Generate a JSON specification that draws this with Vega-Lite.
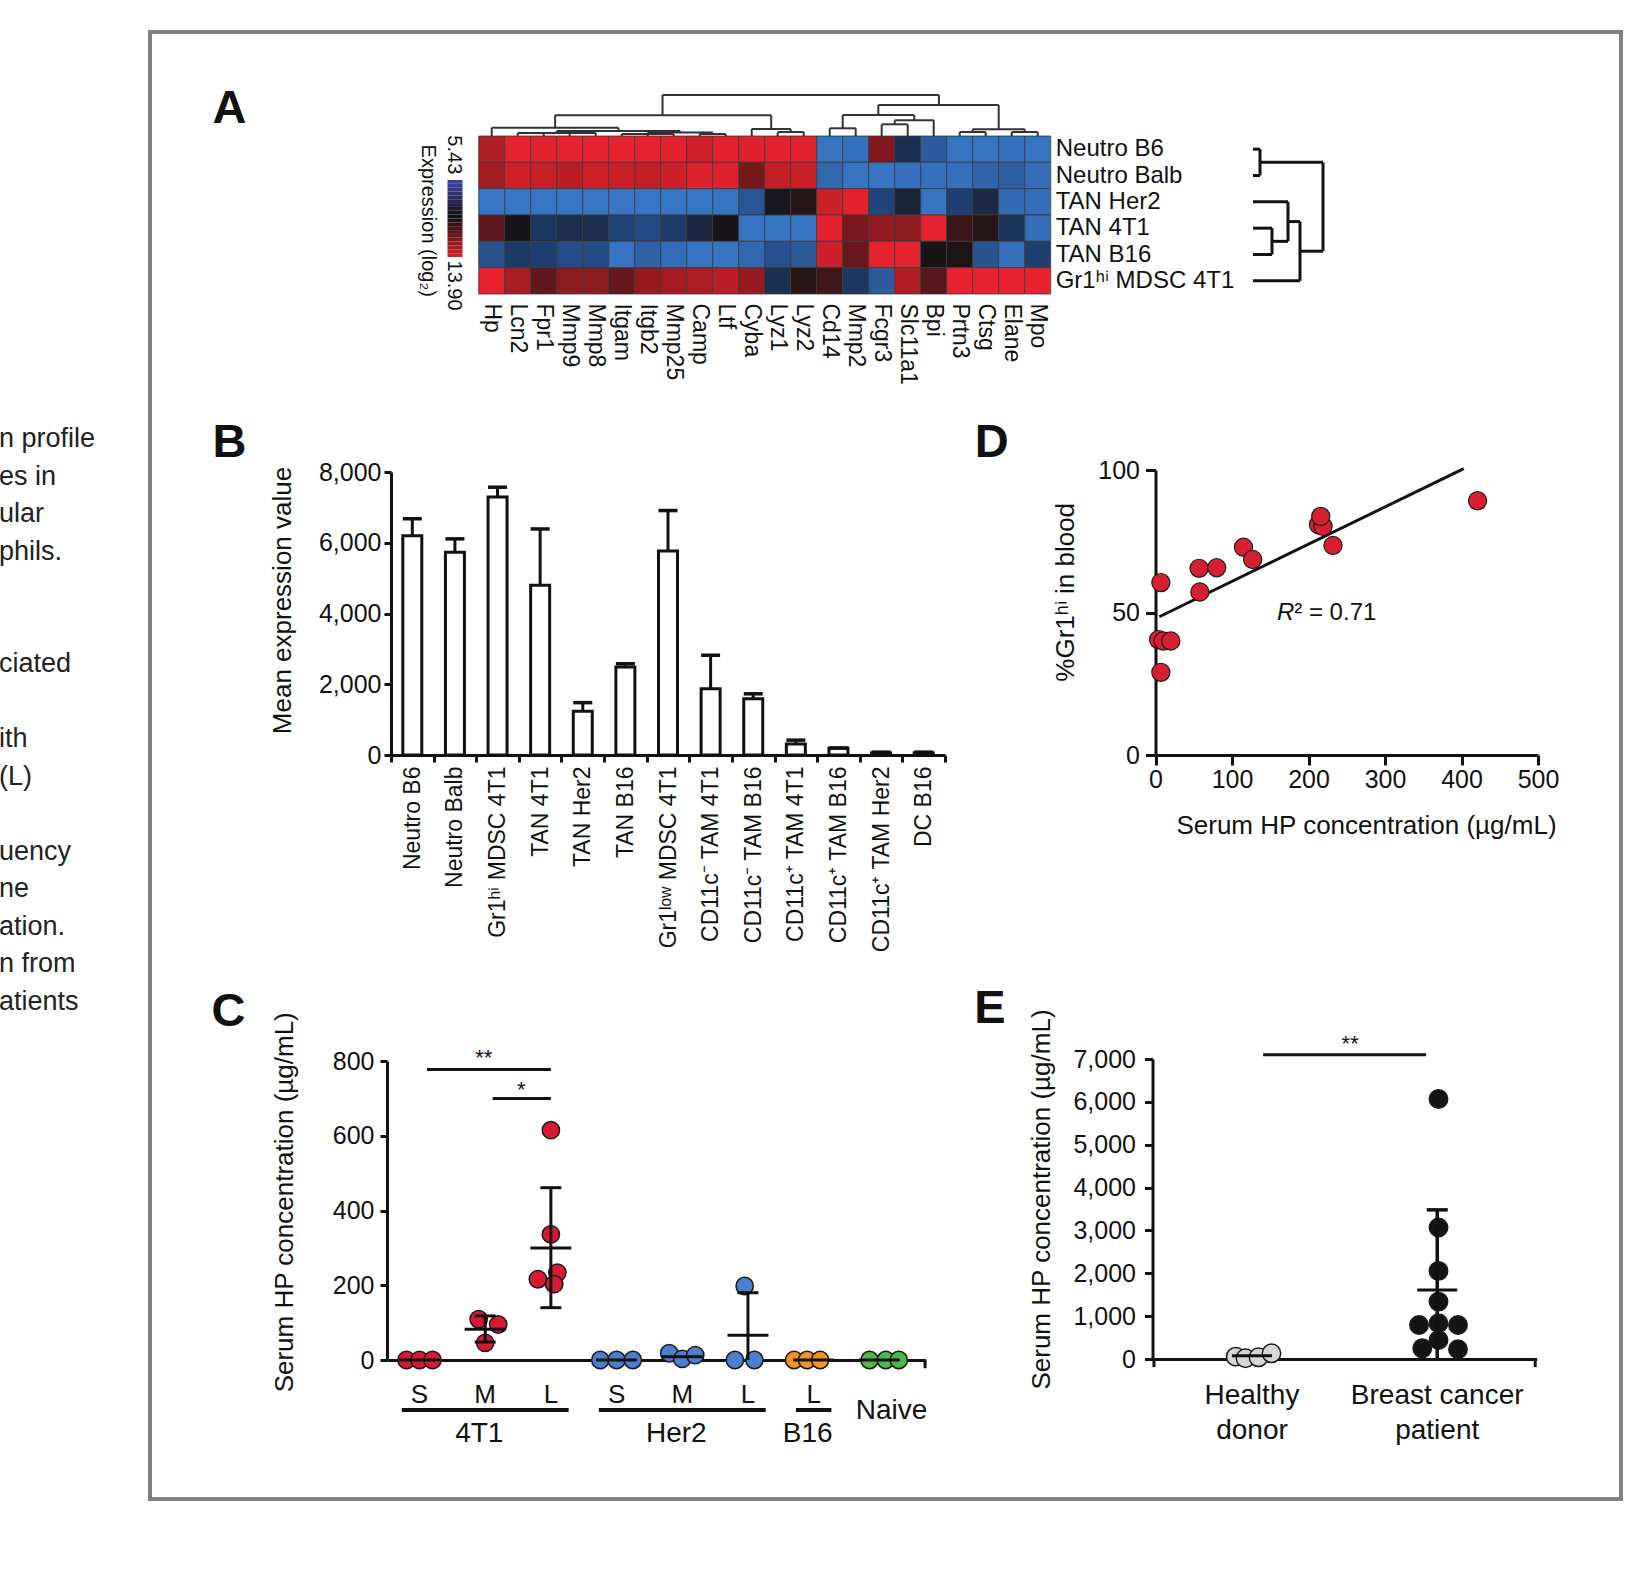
{
"$schema": "https://vega.github.io/schema/vega-lite/v6.json",
"width": 1471,
"height": 1467,
"autosize": {"type": "none"},
"padding": {"left": 150, "top": 32, "right": 7, "bottom": 76},
"background": "white",
"config": {
  "font": "Liberation Sans",
  "view": {"stroke": "#808080", "strokeWidth": 4},
  "axis": {"grid": false, "domainColor": "#111111", "tickColor": "#111111", "labelColor": "#111111", "titleColor": "#111111", "labelFont": "Liberation Sans", "titleFont": "Liberation Sans", "titleFontWeight": "normal", "domainWidth": 3, "tickWidth": 3, "labelFlush": false, "labelOverlap": false, "labelLimit": 0},
  "text": {"font": "Liberation Sans", "color": "#111111"}
},
"datasets": {
  "heatwide": [
    {"s":"Neutro B6","Hp":12.6,"Lcn2":13.8,"Fpr1":13.7,"Mmp9":13.8,"Mmp8":13.8,"Itgam":13.8,"Itgb2":13.8,"Mmp25":13.7,"Camp":13.3,"Ltf":13.7,"Cyba":13.6,"Lyz1":13.7,"Lyz2":13.7,"Cd14":5.8,"Mmp2":5.9,"Fcgr3":11.6,"Slc11a1":8.3,"Bpi":6.6,"Prtn3":5.8,"Ctsg":5.8,"Elane":5.9,"Mpo":5.8},
    {"s":"Neutro Balb","Hp":12.2,"Lcn2":13.3,"Fpr1":13.1,"Mmp9":12.8,"Mmp8":13.3,"Itgam":13.1,"Itgb2":13.0,"Mmp25":13.2,"Camp":13.6,"Ltf":13.6,"Cyba":11.4,"Lyz1":13.0,"Lyz2":13.2,"Cd14":6.2,"Mmp2":5.8,"Fcgr3":5.8,"Slc11a1":5.9,"Bpi":5.9,"Prtn3":5.9,"Ctsg":6.3,"Elane":6.5,"Mpo":6.0},
    {"s":"TAN Her2","Hp":5.7,"Lcn2":5.7,"Fpr1":5.7,"Mmp9":5.7,"Mmp8":5.7,"Itgam":5.7,"Itgb2":5.7,"Mmp25":5.7,"Camp":5.7,"Ltf":5.8,"Cyba":6.8,"Lyz1":9.5,"Lyz2":9.9,"Cd14":13.2,"Mmp2":13.7,"Fcgr3":7.4,"Slc11a1":8.9,"Bpi":5.8,"Prtn3":7.6,"Ctsg":8.6,"Elane":6.1,"Mpo":6.0},
    {"s":"TAN 4T1","Hp":11.0,"Lcn2":9.6,"Fpr1":8.0,"Mmp9":8.4,"Mmp8":8.4,"Itgam":7.5,"Itgb2":7.2,"Mmp25":7.7,"Camp":8.7,"Ltf":9.6,"Cyba":5.8,"Lyz1":5.8,"Lyz2":5.8,"Cd14":13.7,"Mmp2":11.5,"Fcgr3":12.0,"Slc11a1":11.8,"Bpi":13.8,"Prtn3":10.3,"Ctsg":9.9,"Elane":8.1,"Mpo":6.0},
    {"s":"TAN B16","Hp":7.0,"Lcn2":7.8,"Fpr1":7.6,"Mmp9":7.1,"Mmp8":7.2,"Itgam":5.8,"Itgb2":6.4,"Mmp25":6.0,"Camp":5.8,"Ltf":5.8,"Cyba":6.2,"Lyz1":7.0,"Lyz2":6.7,"Cd14":13.2,"Mmp2":11.2,"Fcgr3":13.8,"Slc11a1":13.8,"Bpi":9.7,"Prtn3":9.8,"Ctsg":6.9,"Elane":5.9,"Mpo":7.6},
    {"s":"Gr1ʰⁱ MDSC 4T1","Hp":13.8,"Lcn2":12.4,"Fpr1":11.0,"Mmp9":11.8,"Mmp8":11.8,"Itgam":11.1,"Itgb2":12.0,"Mmp25":12.3,"Camp":12.5,"Ltf":12.8,"Cyba":12.0,"Lyz1":8.3,"Lyz2":10.0,"Cd14":10.4,"Mmp2":7.9,"Fcgr3":6.6,"Slc11a1":12.6,"Bpi":10.8,"Prtn3":13.8,"Ctsg":13.8,"Elane":13.8,"Mpo":13.8}
  ],
  "dendC": [
    {"a":6.57,"b":17.2,"c":41,"d":41},{"a":6.57,"b":6.57,"c":20.7,"d":41},{"a":17.2,"b":17.2,"c":31,"d":41},
    {"a":2.44,"b":10.75,"c":20.7,"d":20.7},{"a":2.44,"b":2.44,"c":8.3,"d":20.7},{"a":10.75,"b":10.75,"c":7,"d":20.7},
    {"a":0,"b":4.875,"c":8.3,"d":8.3},{"a":0,"b":0,"c":0,"d":8.3},{"a":4.875,"b":4.875,"c":5,"d":8.3},
    {"a":2.5,"b":7.25,"c":5,"d":5},{"a":2.5,"b":2.5,"c":3,"d":5},{"a":7.25,"b":7.25,"c":3.5,"d":5},
    {"a":1,"b":4,"c":3,"d":3},{"a":1,"b":1,"c":0,"d":3},{"a":2,"b":2,"c":0,"d":3},{"a":3,"b":3,"c":0,"d":3},{"a":4,"b":4,"c":0,"d":3},
    {"a":6,"b":8.5,"c":3.5,"d":3.5},{"a":6,"b":6,"c":2,"d":3.5},{"a":8.5,"b":8.5,"c":2,"d":3.5},
    {"a":5,"b":7,"c":2,"d":2},{"a":5,"b":5,"c":0,"d":2},{"a":6,"b":6,"c":0,"d":2},{"a":7,"b":7,"c":0,"d":2},
    {"a":8,"b":9,"c":2,"d":2},{"a":8,"b":8,"c":0,"d":2},{"a":9,"b":9,"c":0,"d":2},
    {"a":10,"b":11.5,"c":7,"d":7},{"a":10,"b":10,"c":0,"d":7},{"a":11.5,"b":11.5,"c":4,"d":7},{"a":11,"b":12,"c":4,"d":4},{"a":11,"b":11,"c":0,"d":4},{"a":12,"b":12,"c":0,"d":4},
    {"a":14.87,"b":19.5,"c":31,"d":31},{"a":14.87,"b":14.87,"c":21,"d":31},{"a":19.5,"b":19.5,"c":6.7,"d":31},
    {"a":13.5,"b":16.25,"c":21,"d":21},{"a":13.5,"b":13.5,"c":7.7,"d":21},{"a":16.25,"b":16.25,"c":15.7,"d":21},
    {"a":13,"b":14,"c":7.7,"d":7.7},{"a":13,"b":13,"c":0,"d":7.7},{"a":14,"b":14,"c":0,"d":7.7},
    {"a":15.5,"b":17,"c":15.7,"d":15.7},{"a":17,"b":17,"c":0,"d":15.7},{"a":15.5,"b":15.5,"c":11.7,"d":15.7},
    {"a":15,"b":16,"c":11.7,"d":11.7},{"a":15,"b":15,"c":0,"d":11.7},{"a":16,"b":16,"c":0,"d":11.7},
    {"a":18.5,"b":20.5,"c":6.7,"d":6.7},{"a":18.5,"b":18.5,"c":4,"d":6.7},{"a":20.5,"b":20.5,"c":4,"d":6.7},
    {"a":18,"b":19,"c":4,"d":4},{"a":18,"b":18,"c":0,"d":4},{"a":19,"b":19,"c":0,"d":4},
    {"a":20,"b":21,"c":4,"d":4},{"a":20,"b":20,"c":0,"d":4},{"a":21,"b":21,"c":0,"d":4}
  ],
  "dendR": [
    {"a":0,"b":7,"c":0,"d":0},{"a":0,"b":7,"c":1,"d":1},{"a":7,"b":7,"c":0,"d":1},{"a":7,"b":70,"c":0.5,"d":0.5},
    {"a":0,"b":35,"c":2,"d":2},{"a":0,"b":19,"c":3,"d":3},{"a":0,"b":19,"c":4,"d":4},{"a":19,"b":19,"c":3,"d":4},
    {"a":19,"b":35,"c":3.5,"d":3.5},{"a":35,"b":35,"c":2,"d":3.5},{"a":35,"b":47,"c":2.75,"d":2.75},
    {"a":0,"b":47,"c":5,"d":5},{"a":47,"b":47,"c":2.75,"d":5},{"a":47,"b":70,"c":3.875,"d":3.875},{"a":70,"b":70,"c":0.5,"d":3.875}
  ],
  "legend": [
    {"v":5.43,"v2":5.85},{"v":5.85,"v2":6.28},{"v":6.28,"v2":6.70},{"v":6.70,"v2":7.12},{"v":7.12,"v2":7.55},
    {"v":7.55,"v2":7.97},{"v":7.97,"v2":8.39},{"v":8.39,"v2":8.82},{"v":8.82,"v2":9.24},{"v":9.24,"v2":9.67},
    {"v":9.67,"v2":10.09},{"v":10.09,"v2":10.51},{"v":10.51,"v2":10.94},{"v":10.94,"v2":11.36},{"v":11.36,"v2":11.78},
    {"v":11.78,"v2":12.21},{"v":12.21,"v2":12.63},{"v":12.63,"v2":13.05},{"v":13.05,"v2":13.48},{"v":13.48,"v2":13.90}
  ],
  "bars": [
    {"cell":"Neutro B6","mean":6200,"upper":6680},
    {"cell":"Neutro Balb","mean":5730,"upper":6110},
    {"cell":"Gr1ʰⁱ MDSC 4T1","mean":7290,"upper":7570},
    {"cell":"TAN 4T1","mean":4800,"upper":6390},
    {"cell":"TAN Her2","mean":1240,"upper":1480},
    {"cell":"TAN B16","mean":2490,"upper":2580},
    {"cell":"Gr1ˡᵒʷ MDSC 4T1","mean":5770,"upper":6910},
    {"cell":"CD11c⁻ TAM 4T1","mean":1870,"upper":2820},
    {"cell":"CD11c⁻ TAM B16","mean":1590,"upper":1730},
    {"cell":"CD11c⁺ TAM 4T1","mean":310,"upper":420},
    {"cell":"CD11c⁺ TAM B16","mean":190,"upper":200},
    {"cell":"CD11c⁺ TAM Her2","mean":60,"upper":80},
    {"cell":"DC B16","mean":60,"upper":80}
  ],
  "scatter": [
    {"hp":7,"pct":60.5},{"hp":4,"pct":40.5},{"hp":10,"pct":40},{"hp":20,"pct":40},{"hp":7,"pct":29},
    {"hp":58,"pct":57.2},{"hp":57,"pct":65.5},{"hp":80,"pct":65.7},{"hp":115,"pct":72.9},{"hp":127,"pct":68.6},
    {"hp":213,"pct":80.8},{"hp":219,"pct":80.2},{"hp":216,"pct":83.7},{"hp":232,"pct":73.5},{"hp":421,"pct":89.2}
  ],
  "fit": [{"x1":5,"y1":48.5,"x2":403,"y2":100.5}],
  "cpts": [
    {"grp":"4T1 S","strain":"4T1","v":0,"slot":-4},{"grp":"4T1 S","strain":"4T1","v":0,"slot":0},{"grp":"4T1 S","strain":"4T1","v":0,"slot":4},
    {"grp":"4T1 M","strain":"4T1","v":109,"slot":-2},{"grp":"4T1 M","strain":"4T1","v":95,"slot":4},{"grp":"4T1 M","strain":"4T1","v":46,"slot":0},
    {"grp":"4T1 L","strain":"4T1","v":615,"slot":0},{"grp":"4T1 L","strain":"4T1","v":336,"slot":0},{"grp":"4T1 L","strain":"4T1","v":216,"slot":-4},{"grp":"4T1 L","strain":"4T1","v":234,"slot":2},{"grp":"4T1 L","strain":"4T1","v":203,"slot":1},
    {"grp":"Her2 S","strain":"Her2","v":0,"slot":-5},{"grp":"Her2 S","strain":"Her2","v":0,"slot":0},{"grp":"Her2 S","strain":"Her2","v":0,"slot":5},
    {"grp":"Her2 M","strain":"Her2","v":18,"slot":-4},{"grp":"Her2 M","strain":"Her2","v":3,"slot":0},{"grp":"Her2 M","strain":"Her2","v":13,"slot":4},
    {"grp":"Her2 L","strain":"Her2","v":198,"slot":-1},{"grp":"Her2 L","strain":"Her2","v":0,"slot":-4},{"grp":"Her2 L","strain":"Her2","v":0,"slot":2},
    {"grp":"B16 L","strain":"B16","v":0,"slot":-6},{"grp":"B16 L","strain":"B16","v":0,"slot":-2},{"grp":"B16 L","strain":"B16","v":0,"slot":2},
    {"grp":"Naive","strain":"Naive","v":0,"slot":-3},{"grp":"Naive","strain":"Naive","v":0,"slot":2},{"grp":"Naive","strain":"Naive","v":0,"slot":6}
  ],
  "cstats": [
    {"grp":"4T1 S","mean":0},{"grp":"4T1 M","mean":82,"lo":48,"hi":118},{"grp":"4T1 L","mean":300,"lo":140,"hi":461},
    {"grp":"Her2 S","mean":0},{"grp":"Her2 M","mean":9},{"grp":"Her2 L","mean":66,"lo":0,"hi":180},
    {"grp":"B16 L","mean":0},{"grp":"Naive","mean":0}
  ],
  "csig": [{"from":"4T1 S","to":"4T1 L","y":777,"t":"**"},{"from":"4T1 M","to":"4T1 L","y":700,"t":"*"}],
  "cgroups": [
    {"name":"4T1","from":"4T1 S","to":"4T1 L","at":"4T1 M"},
    {"name":"Her2","from":"Her2 S","to":"Her2 L","at":"Her2 M"},
    {"name":"B16","from":"B16 L","to":"B16 L","at":"B16 L"}
  ],
  "epts": [
    {"grp":"Healthy donor","v":55,"slot":-5},{"grp":"Healthy donor","v":16,"slot":-2},{"grp":"Healthy donor","v":39,"slot":2},{"grp":"Healthy donor","v":132,"slot":6},
    {"grp":"Breast cancer patient","v":6066,"slot":0},{"grp":"Breast cancer patient","v":3068,"slot":0},{"grp":"Breast cancer patient","v":2056,"slot":0},{"grp":"Breast cancer patient","v":1339,"slot":0},
    {"grp":"Breast cancer patient","v":794,"slot":-6},{"grp":"Breast cancer patient","v":833,"slot":0},{"grp":"Breast cancer patient","v":794,"slot":6},
    {"grp":"Breast cancer patient","v":444,"slot":0},{"grp":"Breast cancer patient","v":249,"slot":-5},{"grp":"Breast cancer patient","v":226,"slot":6}
  ],
  "estats": [{"grp":"Healthy donor","mean":75},{"grp":"Breast cancer patient","mean":1612,"lo":0,"hi":3480}],
  "esig": [{"from":"Healthy donor","to":"Breast cancer patient","y":7100,"t":"**"}],
  "lefttext": [
    {"line":0,"t":"n profile"},{"line":1,"t":"es in"},{"line":2,"t":"ular"},{"line":3,"t":"phils."},
    {"line":6,"t":"ciated"},{"line":8,"t":"ith"},{"line":9,"t":"(L)"},{"line":11,"t":"uency"},
    {"line":12,"t":"ne"},{"line":13,"t":"ation."},{"line":14,"t":"n from"},{"line":15,"t":"atients"}
  ]
},
"layer": [
  {
    "data": {"name": "heatwide"},
    "transform": [{"fold": ["Hp","Lcn2","Fpr1","Mmp9","Mmp8","Itgam","Itgb2","Mmp25","Camp","Ltf","Cyba","Lyz1","Lyz2","Cd14","Mmp2","Fcgr3","Slc11a1","Bpi","Prtn3","Ctsg","Elane","Mpo"], "as": ["g", "v"]}],
    "mark": {"type": "rect", "stroke": "#3a3a3a", "strokeWidth": 0.8},
    "encoding": {
      "x": {"field": "g", "type": "nominal",
        "scale": {"type": "band", "domain": ["Hp","Lcn2","Fpr1","Mmp9","Mmp8","Itgam","Itgb2","Mmp25","Camp","Ltf","Cyba","Lyz1","Lyz2","Cd14","Mmp2","Fcgr3","Slc11a1","Bpi","Prtn3","Ctsg","Elane","Mpo"], "range": [328.7, 900.7], "paddingInner": 0, "paddingOuter": 0},
        "axis": {"orient": "bottom", "offset": -1205, "title": null, "domain": false, "ticks": false, "tickSize": 0, "labelAngle": 90, "labelAlign": "left", "labelBaseline": "middle", "labelPadding": 9, "labelFontSize": 23}},
      "y": {"field": "s", "type": "nominal",
        "scale": {"type": "band", "domain": ["Neutro B6","Neutro Balb","TAN Her2","TAN 4T1","TAN B16","Gr1ʰⁱ MDSC 4T1"], "range": [104, 262], "paddingInner": 0, "paddingOuter": 0},
        "axis": {"orient": "right", "offset": -570.3, "title": null, "domain": false, "ticks": false, "tickSize": 0, "labelPadding": 4.5, "labelFontSize": 24}},
      "color": {"field": "v", "type": "quantitative", "scale": {"domain": [5.43, 7.55, 9.67, 11.8, 13.9], "range": ["#3c7fd2", "#1f3f73", "#171416", "#8c1a1f", "#ec2330"], "interpolate": "rgb"}, "legend": null}
    }
  },
  {
    "data": {"name": "dendC"},
    "mark": {"type": "rule", "stroke": "#333333", "strokeWidth": 2},
    "encoding": {
      "x": {"field": "a", "type": "quantitative", "scale": {"domain": [-0.5, 21.5], "range": [328.7, 900.7], "zero": false, "nice": false}, "axis": null},
      "x2": {"field": "b"},
      "y": {"field": "c", "type": "quantitative", "scale": {"domain": [0, 41], "range": [104, 63], "zero": false, "nice": false}, "axis": null},
      "y2": {"field": "d"}
    }
  },
  {
    "data": {"name": "dendR"},
    "mark": {"type": "rule", "stroke": "#111111", "strokeWidth": 3},
    "encoding": {
      "x": {"field": "a", "type": "quantitative", "scale": {"domain": [0, 70], "range": [1103, 1173], "zero": false, "nice": false}, "axis": null},
      "x2": {"field": "b"},
      "y": {"field": "c", "type": "quantitative", "scale": {"domain": [-0.5, 5.5], "range": [104, 262], "zero": false, "nice": false}, "axis": null},
      "y2": {"field": "d"}
    }
  },
  {
    "layer": [
      {
        "data": {"name": "legend"},
        "mark": {"type": "rect"},
        "encoding": {
          "x": {"datum": 0, "type": "quantitative", "scale": {"domain": [0, 1], "range": [297.5, 312.5], "zero": false, "nice": false}, "axis": null},
          "x2": {"datum": 1},
          "y": {"field": "v", "type": "quantitative", "scale": {"domain": [5.43, 13.9], "range": [148, 225], "zero": false, "nice": false}, "axis": null},
          "y2": {"field": "v2"},
          "color": {"field": "v", "type": "quantitative", "scale": {"domain": [5.43, 9.3, 13.9], "range": ["#3d43a6", "#111111", "#e6222b"], "interpolate": "rgb"}, "legend": null}
        }
      },
      {
        "data": {"values": [{"t": "5.43"}]},
        "mark": {"type": "text", "angle": 90, "fontSize": 20, "align": "center", "baseline": "middle"},
        "encoding": {"x": {"datum": 0.42, "type": "quantitative", "axis": null}, "y": {"datum": 2.66, "type": "quantitative", "axis": null}, "text": {"field": "t"}}
      },
      {
        "data": {"values": [{"t": "13.90"}]},
        "mark": {"type": "text", "angle": 90, "fontSize": 20, "align": "center", "baseline": "middle"},
        "encoding": {"x": {"datum": 0.42, "type": "quantitative", "axis": null}, "y": {"datum": 17.04, "type": "quantitative", "axis": null}, "text": {"field": "t"}}
      },
      {
        "data": {"values": [{"t": "Expression (log₂)"}]},
        "mark": {"type": "text", "angle": 90, "fontSize": 20, "align": "center", "baseline": "middle"},
        "encoding": {"x": {"datum": -1.3, "type": "quantitative", "axis": null}, "y": {"datum": 9.91, "type": "quantitative", "axis": null}, "text": {"field": "t"}}
      }
    ]
  },
  {
    "data": {"name": "bars"},
    "encoding": {
      "x": {"field": "cell", "type": "nominal",
        "scale": {"type": "band", "domain": ["Neutro B6","Neutro Balb","Gr1ʰⁱ MDSC 4T1","TAN 4T1","TAN Her2","TAN B16","Gr1ˡᵒʷ MDSC 4T1","CD11c⁻ TAM 4T1","CD11c⁻ TAM B16","CD11c⁺ TAM 4T1","CD11c⁺ TAM B16","CD11c⁺ TAM Her2","DC B16"], "range": [241, 795], "paddingInner": 0, "paddingOuter": 0},
        "axis": {"orient": "bottom", "offset": -744, "title": null, "labelAngle": -90, "labelAlign": "right", "labelBaseline": "middle", "labelFontSize": 23, "labelPadding": 4, "tickSize": 7, "tickBand": "extent"}}
    },
    "layer": [
      {"mark": {"type": "bar", "size": 19, "fill": "white", "stroke": "#111111", "strokeWidth": 3},
       "encoding": {"y": {"field": "mean", "type": "quantitative",
        "scale": {"domain": [0, 8000], "range": [723, 440], "zero": false, "nice": false},
        "axis": {"orient": "left", "offset": -241, "values": [0, 2000, 4000, 6000, 8000], "labelExpr": "format(datum.value, ',')", "labelFontSize": 25, "tickSize": 7, "labelPadding": 3, "title": "Mean expression value", "titleFontSize": 26, "titleX": -108.6, "titleY": 568, "titleBaseline": "middle"}}}},
      {"mark": {"type": "rule", "strokeWidth": 3, "color": "#111111"}, "encoding": {"y": {"field": "mean", "type": "quantitative"}, "y2": {"field": "upper"}}},
      {"mark": {"type": "tick", "size": 19, "thickness": 3.5, "color": "#111111", "opacity": 1}, "encoding": {"y": {"field": "upper", "type": "quantitative"}}}
    ]
  },
  {
    "layer": [
      {
        "data": {"name": "fit"},
        "mark": {"type": "rule", "strokeWidth": 3, "color": "#111111"},
        "encoding": {
          "x": {"field": "x1", "type": "quantitative", "scale": {"domain": [0, 500], "range": [1005.5, 1388], "zero": false, "nice": false},
            "axis": {"orient": "bottom", "offset": -744, "values": [0, 100, 200, 300, 400, 500], "labelFontSize": 25, "tickSize": 10, "labelPadding": 2, "title": "Serum HP concentration (µg/mL)", "titleFontSize": 26, "titleX": 1216, "titleY": 70.5, "titleBaseline": "middle"}},
          "x2": {"field": "x2"},
          "y": {"field": "y1", "type": "quantitative", "scale": {"domain": [0, 100], "range": [723, 438], "zero": false, "nice": false},
            "axis": {"orient": "left", "offset": -1005.5, "values": [0, 50, 100], "labelFontSize": 25, "tickSize": 10, "labelPadding": 6, "title": "%Gr1ʰⁱ in blood", "titleFontSize": 26, "titleX": -90, "titleY": 559.8, "titleBaseline": "middle"}},
          "y2": {"field": "y2"}
        }
      },
      {
        "data": {"name": "scatter"},
        "mark": {"type": "circle", "size": 330, "fill": "#d81f30", "stroke": "#1a1a1a", "strokeWidth": 1.2, "opacity": 1},
        "encoding": {
          "x": {"field": "hp", "type": "quantitative"},
          "y": {"field": "pct", "type": "quantitative"}
        }
      },
      {
        "data": {"values": [{"t": "R"}]},
        "mark": {"type": "text", "fontSize": 24, "fontStyle": "italic", "align": "left", "baseline": "middle"},
        "encoding": {"x": {"datum": 158.8, "type": "quantitative"}, "y": {"datum": 50, "type": "quantitative"}, "text": {"field": "t"}}
      },
      {
        "data": {"values": [{"t": "² = 0.71"}]},
        "mark": {"type": "text", "fontSize": 24, "align": "left", "baseline": "middle"},
        "encoding": {"x": {"datum": 181.4, "type": "quantitative"}, "y": {"datum": 50, "type": "quantitative"}, "text": {"field": "t"}}
      }
    ]
  },
  {
    "data": {"name": "cpts"},
    "mark": {"type": "circle", "size": 300, "stroke": "#1a1a1a", "strokeWidth": 1.5, "opacity": 1},
    "encoding": {
      "x": {"field": "grp", "type": "nominal", "scale": {"type": "point", "domain": ["4T1 S","4T1 M","4T1 L","Her2 S","Her2 M","Her2 L","B16 L","Naive"], "range": [269.5, 729.3], "padding": 0}, "axis": null},
      "xOffset": {"field": "slot", "type": "quantitative", "scale": {"domain": [-6, 6], "range": [-19.5, 19.5], "zero": false, "nice": false}},
      "y": {"field": "v", "type": "quantitative", "scale": {"domain": [0, 800], "range": [1328, 1029], "zero": false, "nice": false}, "axis": null},
      "color": {"field": "strain", "type": "nominal", "scale": {"domain": ["4T1", "Her2", "B16", "Naive"], "range": ["#d71a30", "#4a80cf", "#f39322", "#50b848"]}, "legend": null}
    }
  },
  {
    "layer": [
      {
        "data": {"name": "cstats"},
        "mark": {"type": "tick", "size": 41, "thickness": 3, "color": "#111111", "opacity": 1},
        "encoding": {
          "x": {"field": "grp", "type": "nominal",
            "scale": {"type": "band", "domain": ["4T1 S","4T1 M","4T1 L","Her2 S","Her2 M","Her2 L","B16 L","Naive"], "range": [237, 775.6], "paddingInner": 0.4, "paddingOuter": 0.2995, "align": 0.325},
            "axis": {"orient": "bottom", "offset": -139, "title": null, "ticks": false, "tickSize": 0, "labelAngle": 0, "labelExpr": "datum.label == 'Naive' ? '' : slice(datum.label, -1)", "labelFontSize": 26, "labelPadding": 21}},
          "y": {"field": "mean", "type": "quantitative",
            "scale": {"domain": [0, 800], "range": [1328, 1029], "zero": false, "nice": false},
            "axis": {"orient": "left", "offset": -237, "values": [0, 200, 400, 600, 800], "labelExpr": "format(datum.value, ',')", "labelFontSize": 25, "tickSize": 7, "labelPadding": 6, "title": "Serum HP concentration (µg/mL)", "titleFontSize": 26, "titleX": -102.5, "titleY": 1169.8, "titleBaseline": "middle"}}
        }
      },
      {
        "data": {"name": "cstats"},
        "transform": [{"filter": "isValid(datum.hi)"}],
        "mark": {"type": "rule", "strokeWidth": 3, "color": "#111111"},
        "encoding": {"x": {"field": "grp", "type": "nominal"}, "y": {"field": "lo", "type": "quantitative"}, "y2": {"field": "hi"}}
      },
      {
        "data": {"name": "cstats"},
        "transform": [{"filter": "isValid(datum.hi)"}],
        "mark": {"type": "tick", "size": 21, "thickness": 3, "color": "#111111", "opacity": 1},
        "encoding": {"x": {"field": "grp", "type": "nominal"}, "y": {"field": "hi", "type": "quantitative"}}
      },
      {
        "data": {"name": "cstats"},
        "transform": [{"filter": "isValid(datum.lo) && datum.lo > 0"}],
        "mark": {"type": "tick", "size": 21, "thickness": 3, "color": "#111111", "opacity": 1},
        "encoding": {"x": {"field": "grp", "type": "nominal"}, "y": {"field": "lo", "type": "quantitative"}}
      },
      {
        "data": {"name": "csig"},
        "mark": {"type": "rule", "strokeWidth": 3, "color": "#111111"},
        "encoding": {"x": {"field": "from", "type": "nominal", "bandPosition": 0.69}, "x2": {"field": "to", "bandPosition": 0.5}, "y": {"field": "y", "type": "quantitative"}}
      },
      {
        "data": {"name": "csig"},
        "transform": [{"filter": "datum.t == '**'"}],
        "mark": {"type": "text", "fontSize": 22, "align": "center", "baseline": "alphabetic"},
        "encoding": {"x": {"field": "to", "type": "nominal", "bandPosition": -1.2}, "y": {"datum": 788, "type": "quantitative"}, "text": {"field": "t"}}
      },
      {
        "data": {"name": "csig"},
        "transform": [{"filter": "datum.t == '*'"}],
        "mark": {"type": "text", "fontSize": 22, "align": "center", "baseline": "alphabetic"},
        "encoding": {"x": {"field": "to", "type": "nominal", "bandPosition": -0.25}, "y": {"datum": 704, "type": "quantitative"}, "text": {"field": "t"}}
      },
      {
        "data": {"name": "cgroups"},
        "mark": {"type": "rule", "strokeWidth": 4, "color": "#111111"},
        "encoding": {"x": {"field": "from", "type": "nominal", "bandPosition": 0.05}, "x2": {"field": "to", "bandPosition": 0.95}, "y": {"datum": -133.8, "type": "quantitative"}}
      },
      {
        "data": {"name": "cgroups"},
        "mark": {"type": "text", "fontSize": 28, "align": "center", "baseline": "middle"},
        "encoding": {"x": {"field": "at", "type": "nominal", "bandPosition": 0.35}, "y": {"datum": -198, "type": "quantitative"}, "text": {"field": "name"}}
      },
      {
        "data": {"values": [{"name": "Naive", "at": "Naive"}]},
        "mark": {"type": "text", "fontSize": 28, "align": "center", "baseline": "middle"},
        "encoding": {"x": {"field": "at", "type": "nominal", "bandPosition": 0.81}, "y": {"datum": -136.5, "type": "quantitative"}, "text": {"field": "name"}}
      },
      {
        "data": {"values": [{"at": "Naive"}]},
        "mark": {"type": "rule", "strokeWidth": 3, "color": "#111111"},
        "encoding": {"x": {"field": "at", "type": "nominal", "bandPosition": 1.66}, "y": {"datum": 0, "type": "quantitative"}, "y2": {"datum": -22}}
      }
    ]
  },
  {
    "data": {"name": "epts"},
    "mark": {"type": "circle", "size": 340, "stroke": "#1a1a1a", "strokeWidth": 1.5, "opacity": 1},
    "encoding": {
      "x": {"field": "grp", "type": "nominal", "scale": {"type": "point", "domain": ["Healthy donor", "Breast cancer patient"], "range": [1102, 1288.5], "padding": 0}, "axis": null},
      "xOffset": {"field": "slot", "type": "quantitative", "scale": {"domain": [-6, 6], "range": [-19.5, 19.5], "zero": false, "nice": false}},
      "y": {"field": "v", "type": "quantitative", "scale": {"domain": [0, 7000], "range": [1327, 1027], "zero": false, "nice": false}, "axis": null},
      "color": {"field": "grp", "type": "nominal", "scale": {"domain": ["Healthy donor", "Breast cancer patient"], "range": ["#d6d6d6", "#141414"]}, "legend": null}
    }
  },
  {
    "layer": [
      {
        "data": {"name": "estats"},
        "mark": {"type": "tick", "size": 40, "thickness": 3, "color": "#111111", "opacity": 1},
        "encoding": {
          "x": {"field": "grp", "type": "nominal",
            "scale": {"type": "band", "domain": ["Healthy donor", "Breast cancer patient"], "range": [1002.5, 1386.7], "paddingInner": 0, "paddingOuter": 0.037},
            "axis": {"orient": "bottom", "offset": -140, "title": null, "ticks": false, "tickSize": 0, "labelAngle": 0, "labelExpr": "datum.label == 'Healthy donor' ? ['Healthy', 'donor'] : ['Breast cancer', 'patient']", "labelFontSize": 28, "labelLineHeight": 35, "labelPadding": 22}},
          "y": {"field": "mean", "type": "quantitative",
            "scale": {"domain": [0, 7000], "range": [1327, 1027], "zero": false, "nice": false},
            "axis": {"orient": "left", "offset": -1002.5, "values": [0, 1000, 2000, 3000, 4000, 5000, 6000, 7000], "labelExpr": "format(datum.value, ',')", "labelFontSize": 25, "tickSize": 8, "labelPadding": 9, "title": "Serum HP concentration (µg/mL)", "titleFontSize": 26, "titleX": -111, "titleY": 1167, "titleBaseline": "middle"}}
        }
      },
      {
        "data": {"name": "estats"},
        "transform": [{"filter": "isValid(datum.hi)"}],
        "mark": {"type": "rule", "strokeWidth": 3.5, "color": "#111111"},
        "encoding": {"x": {"field": "grp", "type": "nominal"}, "y": {"field": "lo", "type": "quantitative"}, "y2": {"field": "hi"}}
      },
      {
        "data": {"name": "estats"},
        "transform": [{"filter": "isValid(datum.hi)"}],
        "mark": {"type": "tick", "size": 21, "thickness": 3.5, "color": "#111111", "opacity": 1},
        "encoding": {"x": {"field": "grp", "type": "nominal"}, "y": {"field": "hi", "type": "quantitative"}}
      },
      {
        "data": {"name": "esig"},
        "mark": {"type": "rule", "strokeWidth": 3, "color": "#111111"},
        "encoding": {"x": {"field": "from", "type": "nominal", "bandPosition": 0.56}, "x2": {"field": "to", "bandPosition": 0.44}, "y": {"field": "y", "type": "quantitative"}}
      },
      {
        "data": {"name": "esig"},
        "mark": {"type": "text", "fontSize": 22, "align": "center", "baseline": "alphabetic"},
        "encoding": {"x": {"field": "from", "type": "nominal", "bandPosition": 1.03}, "y": {"datum": 7191, "type": "quantitative"}, "text": {"field": "t"}}
      },
      {
        "data": {"values": [{"at": "Breast cancer patient"}, {"at": "Healthy donor"}]},
        "transform": [{"filter": "datum.at == 'Breast cancer patient'"}],
        "mark": {"type": "rule", "strokeWidth": 3, "color": "#111111"},
        "encoding": {"x": {"field": "at", "type": "nominal", "bandPosition": 1.029}, "y": {"datum": 0, "type": "quantitative"}, "y2": {"datum": -190}}
      },
      {
        "data": {"values": [{"at": "Healthy donor"}]},
        "mark": {"type": "rule", "strokeWidth": 3, "color": "#111111"},
        "encoding": {"x": {"field": "at", "type": "nominal", "bandPosition": -0.029}, "y": {"datum": 0, "type": "quantitative"}, "y2": {"datum": -190}}
      }
    ]
  },
  {
    "layer": [
      {
        "data": {"values": [{"t": "A"}]},
        "mark": {"type": "text", "fontSize": 47, "fontWeight": "bold", "align": "center", "baseline": "alphabetic"},
        "encoding": {
          "x": {"datum": 229.5, "type": "quantitative", "scale": {"domain": [0, 1628], "range": [-150, 1478], "zero": false, "nice": false}, "axis": null},
          "y": {"datum": 122.5, "type": "quantitative", "scale": {"domain": [0, 1575], "range": [-32, 1543], "zero": false, "nice": false}, "axis": null},
          "text": {"field": "t"}
        }
      },
      {
        "data": {"values": [{"t": "B"}]},
        "mark": {"type": "text", "fontSize": 47, "fontWeight": "bold", "align": "center", "baseline": "alphabetic"},
        "encoding": {"x": {"datum": 229.5, "type": "quantitative", "axis": null}, "y": {"datum": 457, "type": "quantitative", "axis": null}, "text": {"field": "t"}}
      },
      {
        "data": {"values": [{"t": "C"}]},
        "mark": {"type": "text", "fontSize": 47, "fontWeight": "bold", "align": "center", "baseline": "alphabetic"},
        "encoding": {"x": {"datum": 228.4, "type": "quantitative", "axis": null}, "y": {"datum": 1025.5, "type": "quantitative", "axis": null}, "text": {"field": "t"}}
      },
      {
        "data": {"values": [{"t": "D"}]},
        "mark": {"type": "text", "fontSize": 47, "fontWeight": "bold", "align": "center", "baseline": "alphabetic"},
        "encoding": {"x": {"datum": 991.6, "type": "quantitative", "axis": null}, "y": {"datum": 457, "type": "quantitative", "axis": null}, "text": {"field": "t"}}
      },
      {
        "data": {"values": [{"t": "E"}]},
        "mark": {"type": "text", "fontSize": 47, "fontWeight": "bold", "align": "center", "baseline": "alphabetic"},
        "encoding": {"x": {"datum": 990, "type": "quantitative", "axis": null}, "y": {"datum": 1022.7, "type": "quantitative", "axis": null}, "text": {"field": "t"}}
      }
    ]
  },
  {
    "data": {"name": "lefttext"},
    "mark": {"type": "text", "fontSize": 27, "align": "left", "baseline": "middle", "color": "#222222"},
    "encoding": {
      "x": {"datum": 0, "type": "quantitative", "scale": {"domain": [0, 1], "range": [-151, -150], "zero": false, "nice": false}, "axis": null},
      "y": {"field": "line", "type": "quantitative", "scale": {"domain": [0, 15], "range": [407, 969.5], "zero": false, "nice": false}, "axis": null},
      "text": {"field": "t"}
    }
  }
],
"resolve": {
  "scale": {"x": "independent", "y": "independent", "color": "independent", "xOffset": "independent"},
  "axis": {"x": "independent", "y": "independent"}
}
}
